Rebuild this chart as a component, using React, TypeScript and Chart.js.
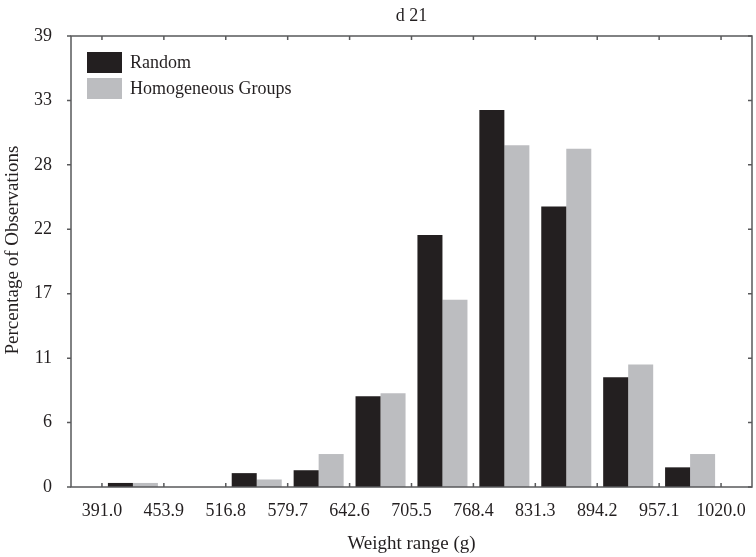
import React, { useEffect, useRef } from "react";
import { Chart, registerables } from "chart.js";

Chart.register(...registerables);

const BIN_EDGES = [391.0, 453.9, 516.8, 579.7, 642.6, 705.5, 768.4, 831.3, 894.2, 957.1, 1020.0];
const RANDOM = [0.35, 0, 1.2, 1.45, 7.85, 21.8, 32.6, 24.25, 9.5, 1.7];
const HOMOGENEOUS = [0.35, 0, 0.65, 2.85, 8.1, 16.2, 29.55, 29.25, 10.6, 2.85];
const Y_MAX = 39;
const Y_TICK_LABELS = [0, 6, 11, 17, 22, 28, 33, 39];
const SERIES_LABELS = ["Random", "Homogeneous Groups"];
const SERIES_COLORS = ["#231f20", "#bcbdc0"];
const Y_TITLE = "Percentage of Observations";

const FONT = "'Liberation Serif', 'Times New Roman', serif";
const TEXT_COLOR = "#231f20";
const AXIS_COLOR = "#58595b";

const binWidth = BIN_EDGES[1] - BIN_EDGES[0];
const binCenters = BIN_EDGES.slice(0, -1).map((e, i) => (e + BIN_EDGES[i + 1]) / 2);

const framePlugin = {
  id: "frameTicks",
  afterDraw(chart: any) {
    const { ctx, chartArea } = chart;
    const xs = chart.scales.x;
    const ys = chart.scales.y;
    ctx.save();
    ctx.strokeStyle = AXIS_COLOR;
    ctx.lineWidth = 1.5;
    ctx.strokeRect(chartArea.left, chartArea.top, chartArea.right - chartArea.left, chartArea.bottom - chartArea.top);
    ctx.beginPath();
    BIN_EDGES.forEach((v) => {
      const px = xs.getPixelForValue(v);
      ctx.moveTo(px, chartArea.bottom);
      ctx.lineTo(px, chartArea.bottom - 4);
      ctx.moveTo(px, chartArea.top);
      ctx.lineTo(px, chartArea.top + 4);
    });
    Y_TICK_LABELS.forEach((_, i) => {
      const py = ys.getPixelForValue((i * Y_MAX) / (Y_TICK_LABELS.length - 1));
      ctx.moveTo(chartArea.left, py);
      ctx.lineTo(chartArea.left - 4, py);
      ctx.moveTo(chartArea.right, py);
      ctx.lineTo(chartArea.right - 4, py);
    });
    ctx.stroke();

    // legend inside plot area
    const lx = chartArea.left + 16;
    let ly = chartArea.top + 16;
    ctx.font = `18px ${FONT}`;
    ctx.textBaseline = "middle";
    ctx.textAlign = "left";
    chart.data.datasets.forEach((ds: any) => {
      ctx.fillStyle = ds.backgroundColor;
      ctx.fillRect(lx, ly, 35, 21);
      ctx.fillStyle = TEXT_COLOR;
      ctx.fillText(ds.label, lx + 43, ly + 11);
      ly += 26;
    });

    // y axis title
    ctx.translate(13, 250);
    ctx.rotate(-Math.PI / 2);
    ctx.font = `19px ${FONT}`;
    ctx.textAlign = "center";
    ctx.textBaseline = "middle";
    ctx.fillStyle = TEXT_COLOR;
    ctx.fillText(Y_TITLE, 0, 0);
    ctx.restore();
  },
};

export default function App() {
  const ref = useRef<HTMLCanvasElement>(null);
  useEffect(() => {
    document.body.style.margin = "0";
    const canvas = ref.current!;
    const chart = new Chart(canvas, {
      type: "bar",
      data: {
        datasets: [
          {
            label: SERIES_LABELS[0],
            data: binCenters.map((x, i) => ({ x, y: RANDOM[i] })),
            backgroundColor: SERIES_COLORS[0],
            borderWidth: 0,
          },
          {
            label: SERIES_LABELS[1],
            data: binCenters.map((x, i) => ({ x, y: HOMOGENEOUS[i] })),
            backgroundColor: SERIES_COLORS[1],
            borderWidth: 0,
          },
        ],
      },
      options: {
        responsive: false,
        animation: false,
        devicePixelRatio: 1,
        categoryPercentage: 0.808,
        barPercentage: 1.0,
        layout: { padding: { left: 0, right: 4, top: 0, bottom: 0 } },
        plugins: {
          legend: { display: false },
          tooltip: { enabled: false },
          title: {
            display: true,
            text: "d 21",
            fullSize: false,
            color: TEXT_COLOR,
            font: { family: FONT, size: 18, weight: "normal", lineHeight: 1.2 },
            padding: { top: 5, bottom: 9.4 },
          },
        },
        scales: {
          x: {
            type: "linear",
            offset: false,
            min: BIN_EDGES[0] - binWidth / 2,
            max: BIN_EDGES[BIN_EDGES.length - 1] + binWidth / 2,
            afterBuildTicks: (s: any) => {
              s.ticks = BIN_EDGES.map((v) => ({ value: v }));
            },
            afterFit: (s: any) => {
              s.height = 70;
            },
            grid: { display: false, offset: false },
            border: { display: false },
            ticks: {
              color: TEXT_COLOR,
              font: { family: FONT, size: 18 },
              padding: 5,
              maxRotation: 0,
              autoSkip: false,
              callback: (v: any) => Number(v).toFixed(1),
            },
            title: {
              display: true,
              text: "Weight range (g)",
              color: TEXT_COLOR,
              font: { family: FONT, size: 19, lineHeight: 1.2 },
              padding: { top: 0, bottom: 2 },
            },
          },
          y: {
            type: "linear",
            min: 0,
            max: Y_MAX,
            afterBuildTicks: (s: any) => {
              s.ticks = Y_TICK_LABELS.map((_, i) => ({ value: (i * Y_MAX) / (Y_TICK_LABELS.length - 1) }));
            },
            afterFit: (s: any) => {
              s.width = 71;
            },
            grid: { display: false },
            border: { display: false },
            ticks: {
              color: TEXT_COLOR,
              font: { family: FONT, size: 18 },
              padding: 11,
              callback: (_v: any, i: number) => String(Y_TICK_LABELS[i]),
            },
            title: { display: false },
          },
        },
      },
      plugins: [framePlugin],
    } as any);
    return () => chart.destroy();
  }, []);
  return (
    <div style={{ position: "fixed", left: 0, top: 0, width: 756, height: 557, background: "#fff" }}>
      <canvas ref={ref} width={756} height={557} />
    </div>
  );
}
